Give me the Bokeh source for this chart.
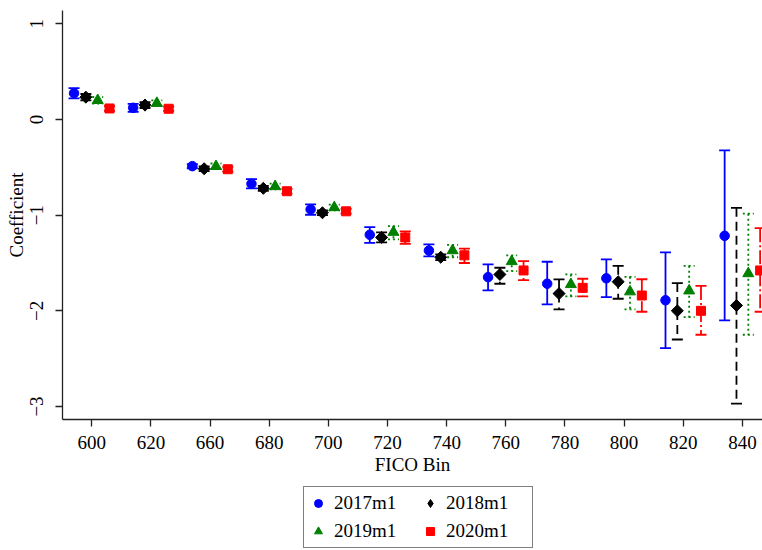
import numpy as np
from bokeh.plotting import figure
from bokeh.layouts import column
from bokeh.models import ColumnDataSource, Range1d, FixedTicker, Legend, LegendItem
from bokeh.transform import dodge
from bokeh.embed import file_html
from bokeh.resources import INLINE

# ---------------- data ----------------
bins = ["600", "620", "660", "680", "700", "720", "740", "760", "780", "800", "820", "840"]

coef_2017 = [0.275, 0.122, -0.488, -0.672, -0.94, -1.205, -1.37, -1.648, -1.717, -1.66, -1.89, -1.216]
lo_2017 = [0.22, 0.08, -0.51, -0.72, -0.996, -1.29, -1.43, -1.787, -1.933, -1.857, -2.39, -2.10]
hi_2017 = [0.327, 0.164, -0.466, -0.624, -0.888, -1.125, -1.306, -1.515, -1.487, -1.463, -1.39, -0.324]

coef_2018 = [0.233, 0.15, -0.515, -0.72, -0.975, -1.233, -1.44, -1.62, -1.82, -1.696, -2.00, -1.944]
lo_2018 = [0.20, 0.12, -0.54, -0.745, -1.0, -1.285, -1.47, -1.717, -1.985, -1.874, -2.30, -2.97]
hi_2018 = [0.266, 0.18, -0.49, -0.695, -0.95, -1.18, -1.41, -1.55, -1.672, -1.53, -1.71, -0.923]

coef_2019 = [0.20, 0.17, -0.49, -0.70, -0.92, -1.178, -1.37, -1.484, -1.724, -1.80, -1.79, -1.61]
lo_2019 = [0.165, 0.14, -0.52, -0.73, -0.95, -1.254, -1.44, -1.585, -1.85, -1.985, -2.066, -2.25]
hi_2019 = [0.235, 0.20, -0.46, -0.67, -0.89, -1.115, -1.31, -1.42, -1.62, -1.645, -1.53, -0.985]

coef_2020 = [0.115, 0.112, -0.52, -0.75, -0.96, -1.233, -1.42, -1.578, -1.76, -1.84, -2.00, -1.578]
lo_2020 = [0.09, 0.09, -0.545, -0.775, -0.985, -1.30, -1.50, -1.68, -1.85, -2.01, -2.25, -2.01]
hi_2020 = [0.14, 0.135, -0.495, -0.725, -0.935, -1.17, -1.35, -1.48, -1.665, -1.67, -1.74, -1.136]

y_ticks = [1, 0, -1, -2, -3]

# ---------------- figure ----------------
FONT = "Liberation Serif"
idx = list(range(len(bins)))

p = figure(width=762, height=480, output_backend="svg", toolbar_location=None,
           x_range=Range1d(-0.495, 11.34), y_range=Range1d(-3.136, 1.139),
           min_border_left=62, min_border_right=0, min_border_top=10, min_border_bottom=61)
p.outline_line_color = None
p.xgrid.visible = False
p.ygrid.visible = False
p.background_fill_color = "white"
p.border_fill_color = "white"

p.xaxis.ticker = FixedTicker(ticks=idx)
p.xaxis.major_label_overrides = {i: b for i, b in enumerate(bins)}
p.yaxis.ticker = FixedTicker(ticks=y_ticks)
p.yaxis.major_label_orientation = "parallel"

for ax in (p.xaxis, p.yaxis):
    ax.axis_line_color = "#222222"
    ax.axis_line_width = 1.3
    ax.major_tick_line_color = "#222222"
    ax.major_tick_line_width = 1.3
    ax.major_tick_out = 7
    ax.major_tick_in = 0
    ax.minor_tick_out = 0
    ax.minor_tick_in = 0
    ax.major_label_text_font = FONT
    ax.major_label_text_font_size = "19px"
    ax.major_label_text_color = "black"
    ax.axis_label_text_font = FONT
    ax.axis_label_text_font_size = "19px"
    ax.axis_label_text_font_style = "normal"
    ax.axis_label_text_color = "black"

p.xaxis.axis_label = "FICO Bin"
p.yaxis.axis_label = "Coefficient"
p.xaxis.major_label_standoff = 9
p.xaxis.axis_label_standoff = 2
p.yaxis.major_label_standoff = 12
p.yaxis.axis_label_standoff = 1

series = [
    ("2017m1", coef_2017, lo_2017, hi_2017, -0.3, "#0000ff", "circle", 9.5, 0.0, "solid", "solid", "circle"),
    ("2018m1", coef_2018, lo_2018, hi_2018, -0.1, "#000000", "square", 8.5, np.pi / 4, "9 5", "solid", "diamond"),
    ("2019m1", coef_2019, lo_2019, hi_2019, 0.1, "#008000", "triangle", 11, 0.0, "2 3", "2 3", "triangle"),
    ("2020m1", coef_2020, lo_2020, hi_2020, 0.3, "#ff0000", "square", 9, 0.0, "14 3 2 3", "solid", "square"),
]

# legend-only figure placed under the chart
pl = figure(width=762, height=70, output_backend="svg", toolbar_location=None,
            x_range=Range1d(0, 1), y_range=Range1d(0, 1), min_border=0)
pl.axis.visible = False
pl.xgrid.visible = False
pl.ygrid.visible = False
pl.outline_line_color = None
pl.background_fill_color = "white"
pl.border_fill_color = "white"

items = {}
for label, c, lo, hi, off, color, marker, size, angle, dash, capdash, lmarker in series:
    src = ColumnDataSource(dict(x=idx, y=c, lo=lo, hi=hi))
    xs = dodge("x", off)
    p.segment(x0=xs, y0="hi", x1=xs, y1="lo", source=src, line_color=color,
              line_width=1.8, line_dash=dash)
    for end in ("hi", "lo"):
        p.scatter(x=xs, y=end, source=src, marker="dash", size=11, line_color=color,
                  line_width=1.8, line_dash=capdash)
    p.scatter(x=xs, y="y", source=src, marker=marker, size=size, angle=angle,
              fill_color=color, line_color=color, line_width=1)
    lr = pl.scatter(x=[np.nan], y=[np.nan], marker=lmarker, size=size,
                    fill_color=color, line_color=color, line_width=1)
    items[label] = LegendItem(label=label, renderers=[lr])

order = ["2017m1", "2019m1", "2018m1", "2020m1"]
legend = Legend(items=[items[k] for k in order], ncols=2, location=(241, 2),
                border_line_color="black", border_line_width=1.2,
                background_fill_color="white", background_fill_alpha=1.0,
                label_text_font=FONT, label_text_font_size="19px", label_text_color="black",
                padding=4, spacing=4, glyph_width=20, glyph_height=24, label_height=24,
                label_standoff=6, label_width=82, margin=0)
pl.add_layout(legend)

layout = column(p, pl, spacing=0)
open("out.html", "w").write(file_html(layout, INLINE))
